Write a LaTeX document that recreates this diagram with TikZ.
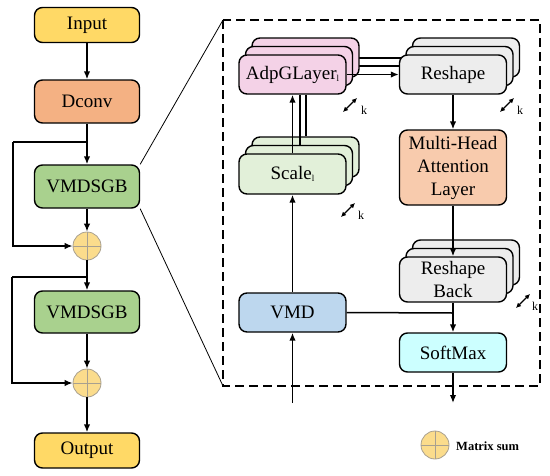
\documentclass[tikz,border=0pt]{standalone}
\usepackage{fontspec}
\setmainfont{Liberation Serif}
\usetikzlibrary{arrows.meta,calc}
\definecolor{cIn}{HTML}{FFD966}
\definecolor{cDc}{HTML}{F4B183}
\definecolor{cVg}{HTML}{A9D18E}
\definecolor{cSum}{HTML}{FBDC8C}
\definecolor{cSumB}{HTML}{A8A090}
\definecolor{cAdp}{HTML}{F4D2E7}
\definecolor{cRes}{HTML}{EDEDED}
\definecolor{cMha}{HTML}{F8CBAD}
\definecolor{cSca}{HTML}{E2F0D9}
\definecolor{cVmd}{HTML}{BDD7EE}
\definecolor{cSm}{HTML}{CCFFFF}
\newcommand{\subl}{\raisebox{-2pt}{\fontsize{9}{9}\selectfont l}}
\newcommand{\stk}[6]{%
  \node[inbox, fill=#5, minimum height=#4] (#1c) at (#2+13,#3-17) {};
  \node[inbox, fill=#5, minimum height=#4] (#1b) at (#2+6.5,#3-8.5) {};
  \node[inbox, fill=#5, minimum height=#4] (#1) at (#2,#3) {#6};}
\begin{document}
\begin{tikzpicture}[x=1pt,y=-1pt,
  lbox/.style={draw, line width=1.4pt, rounded corners=8pt, minimum width=105pt, inner sep=0pt,
     font=\fontsize{19}{22}\selectfont},
  inbox/.style={draw, line width=1.4pt, rounded corners=8pt, minimum width=107pt, inner sep=0pt,
     font=\fontsize{19}{23}\selectfont, align=center},
  sumc/.style={circle, draw=cSumB, fill=cSum, line width=0.8pt, minimum size=28pt, inner sep=0pt},
  arr/.style={-{Latex[length=8pt,width=6.5pt]}, line width=1.5pt},
  ln/.style={line width=1.5pt},
  karr/.style={{Latex[length=5pt,width=5pt]}-{Latex[length=5pt,width=5pt]}, line width=1.3pt},
  klab/.style={font=\fontsize{12}{12}\selectfont, inner sep=0pt}]
\useasboundingbox (0,0) rectangle (550,475);

% left column
\node[lbox, fill=cIn, minimum height=35pt] (in) at (87,25) {Input};
\node[lbox, fill=cDc, minimum height=43pt] (dc) at (87,101.5) {Dconv};
\node[lbox, fill=cVg, minimum height=43pt] (v1) at (87,186.5) {VMDSGB};
\node[sumc] (s1) at (87,246) {};
\node[lbox, fill=cVg, minimum height=42pt] (v2) at (87,312) {VMDSGB};
\node[sumc] (s2) at (87,383) {};
\node[lbox, fill=cIn, minimum height=35pt] (out) at (87,450.5) {Output};
\foreach \s in {s1,s2}{\draw[cSumB, line width=0.8pt] (\s.north)--(\s.south) (\s.west)--(\s.east);}

\draw[arr] (in) -- (dc);
\draw[arr] (dc) -- (v1);
\draw[arr] (v1) -- (s1);
\draw[arr] (s1) -- (v2);
\draw[arr] (v2) -- (s2);
\draw[arr] (s2) -- (out);
\coordinate (f1) at (87,142);
\coordinate (f1l) at (13,142);
\coordinate (f2) at (87,277);
\coordinate (f2l) at (12,277);
\draw[ln] (f1) -- (f1l);
\draw[arr] (f1l) |- (s1.west);
\draw[ln] (f2) -- (f2l);
\draw[arr] (f2l) |- (s2.west);

% dashed frame
\coordinate (dtl) at (223,20);
\coordinate (dbr) at (540,386);
\coordinate (dbl) at (223,386);
\draw[line width=1.5pt, dash pattern=on 9pt off 5pt] (dtl) rectangle (dbr);
\draw[line width=0.8pt] (v1.north east) -- (dtl);
\draw[line width=0.8pt] (v1.south east) -- (dbl);

% connectors behind stacks
\coordinate (adpTop) at (359,58);
\coordinate (adpMid) at (353,66);
\draw[ln] (adpTop) -- (415,58);
\draw[ln] (adpMid) -- (408,66);

% stacks
\stk{adp}{292.5}{74.5}{39pt}{cAdp}{AdpGLayer\subl}
\stk{res}{453}{74.5}{39pt}{cRes}{Reshape}
\stk{sca}{292.5}{174}{40pt}{cSca}{Scale\subl}
\stk{rb}{453}{279.5}{45pt}{cRes}{Reshape\\Back}
\node[inbox, fill=cMha, minimum height=75pt] (mha) at (453,167.5) {Multi-Head\\Attention\\Layer};
\node[inbox, fill=cVmd, minimum height=39pt] (vmd) at (292.5,312.5) {VMD};
\node[inbox, fill=cSm, minimum height=39pt] (sm) at (453,352.5) {SoftMax};

% AdpG <-> Scale lines
\draw[arr] (sca.north) -- (adp.south);
\draw[ln] ([xshift=7.5pt]adp.south) -- ([xshift=7.5pt]adp.south |- scab.north);
\draw[ln] ([xshift=13.5pt]adp.south) -- ([xshift=13.5pt]adp.south |- scac.north);

% AdpG -> Reshape
\draw[arr] (adp.east) -- (res.west);

\draw[arr] (vmd) -- (sca);
\draw[arr] (res) -- (mha);
\draw[arr] (mha.south) -- (rb.north);
\draw[arr] (rb) -- (sm);
\coordinate (join) at (453,313);
\draw[ln] (vmd.east) -- (join);
\coordinate (vin) at (292.5,403);
\coordinate (sout) at (453,403);
\draw[arr] (vin) -- (vmd);
\draw[arr] (sm) -- (sout);

% k markers
\draw[karr] (343,112) -- (357,98); \node[klab] (k1) at (364,110) {k};
\draw[karr] (500,112) -- (514,98); \node[klab] (k2) at (520,110) {k};
\draw[karr] (341,217) -- (355,203); \node[klab] (k3) at (361,215) {k};
\draw[karr] (516,308) -- (530,294); \node[klab] (k4) at (535,306) {k};

% legend
\node[sumc] (ls) at (435,445) {};
\draw[cSumB, line width=0.8pt] (ls.north)--(ls.south) (ls.west)--(ls.east);
\node[anchor=west, font=\bfseries\fontsize{12.5}{12.5}\selectfont, inner sep=0pt] (lt) at (456,446) {Matrix sum};
\end{tikzpicture}
\end{document}
